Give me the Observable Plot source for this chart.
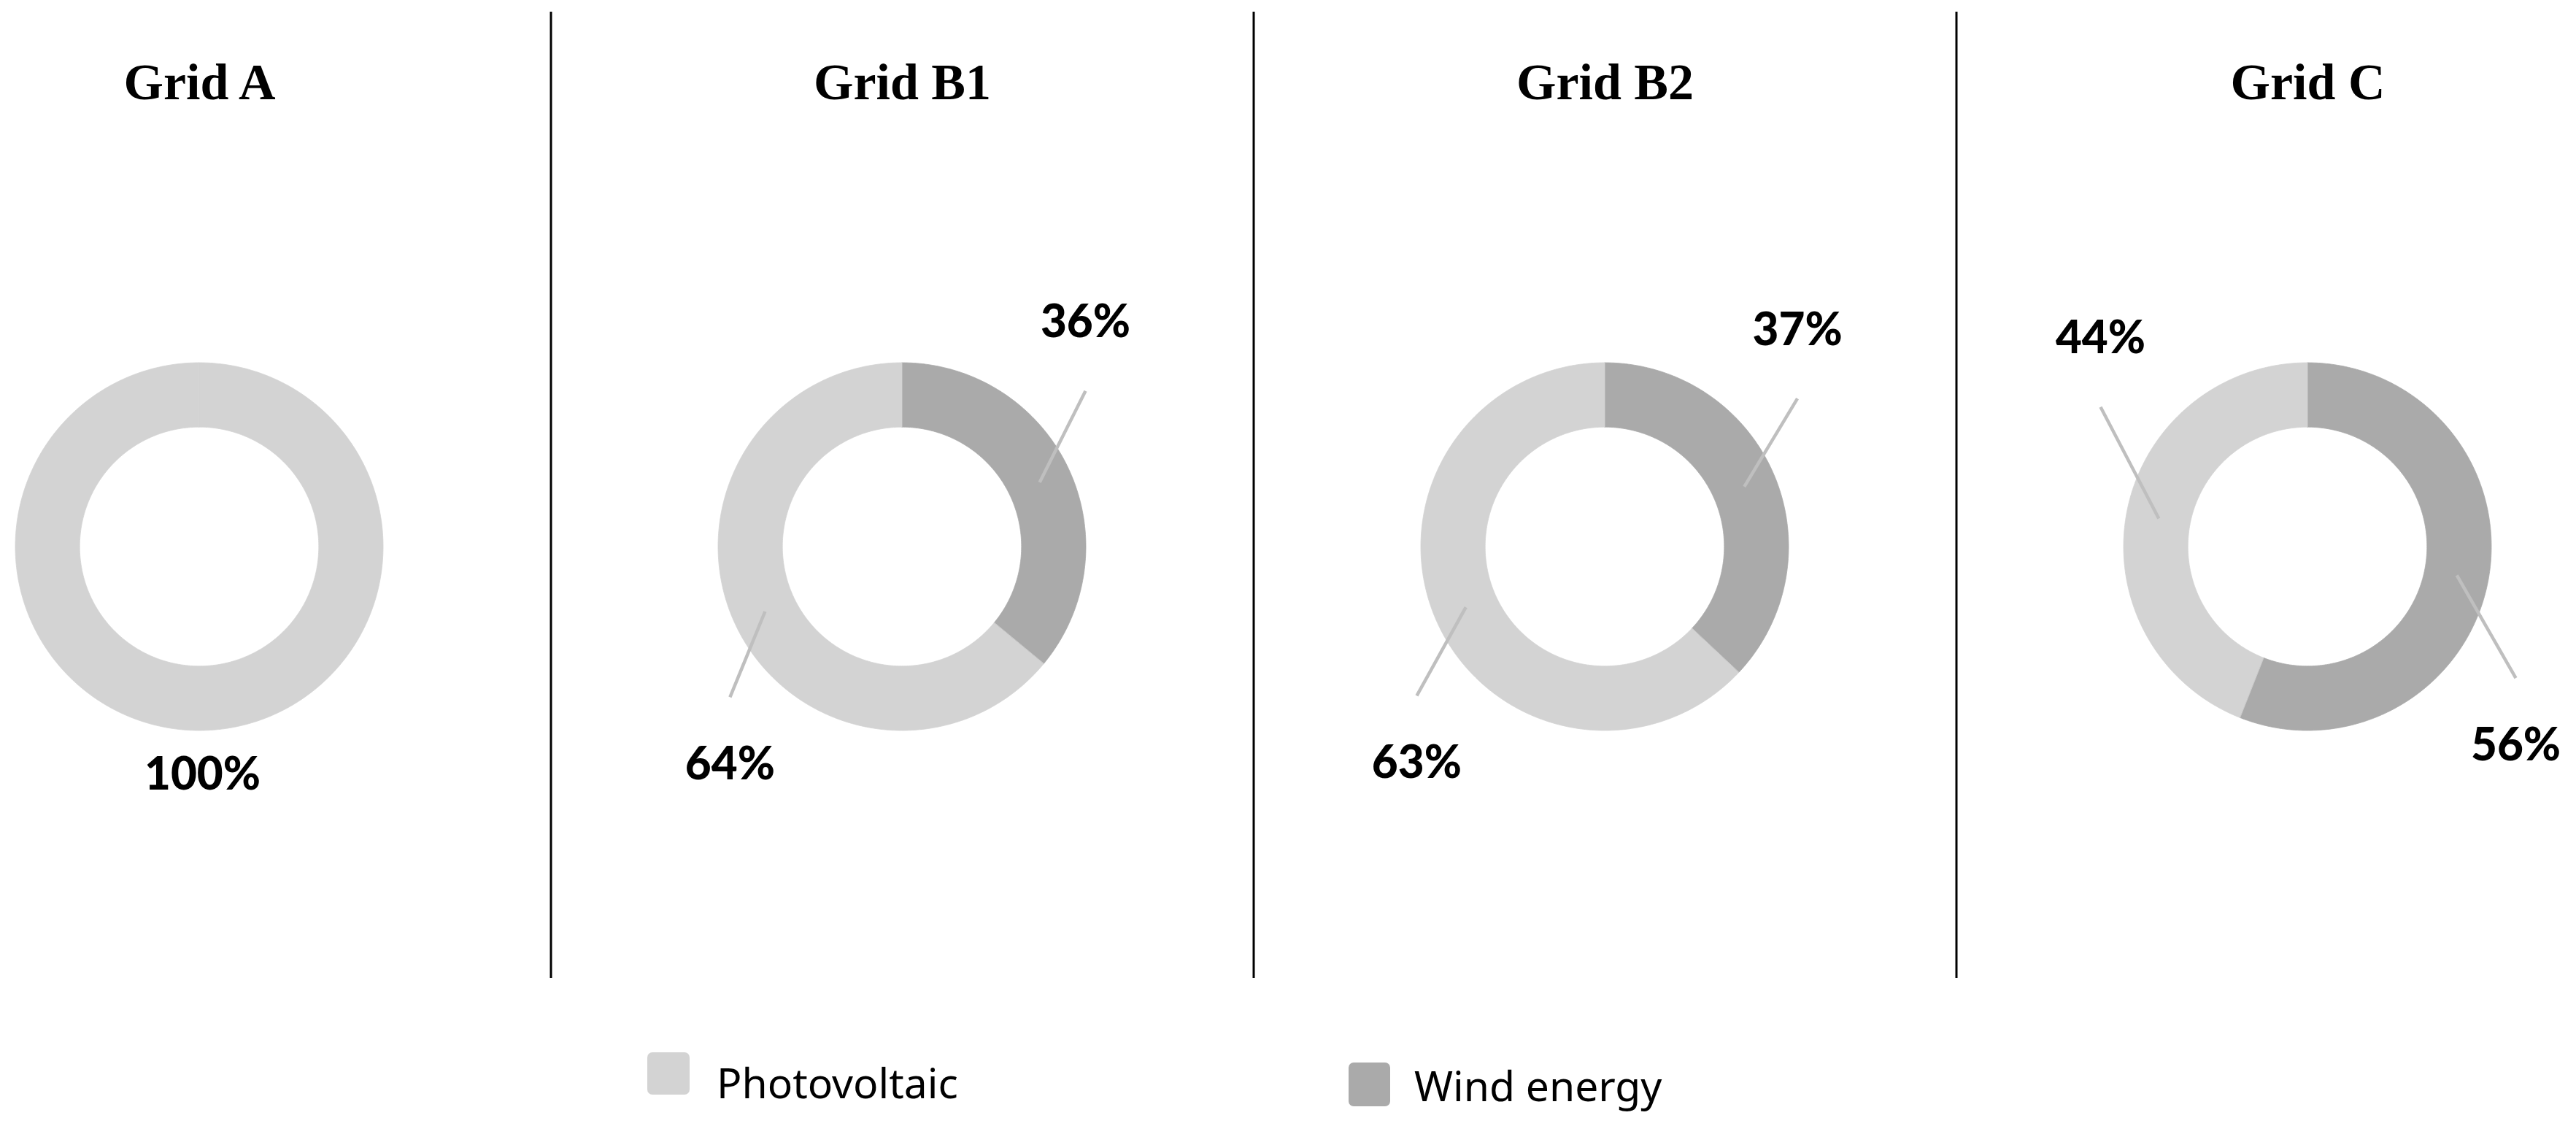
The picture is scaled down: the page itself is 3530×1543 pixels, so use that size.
<!DOCTYPE html>
<html><head><meta charset="utf-8">
<script src="https://cdn.jsdelivr.net/npm/d3@7"></script>
<script src="https://cdn.jsdelivr.net/npm/@observablehq/plot@0.6"></script>
<style>
html,body{margin:0;padding:0;background:#fff;}
#wrap{position:relative;width:3530px;height:1543px;overflow:hidden;background:#fff;}
#chart{position:absolute;left:0;top:0;}
.leg-sw{position:absolute;border-radius:7px;}
.leg-tx{position:absolute;font-family:"Noto Sans";font-size:57px;line-height:57px;color:#000;white-space:nowrap;}
</style></head><body>
<div id="wrap"><div id="chart"></div></div>
<script>
// ---------- data ----------
const grids = ["Grid A", "Grid B1", "Grid B2", "Grid C"];
const sources = ["Photovoltaic", "Wind energy"];
const photovoltaic = [100, 64, 63, 44];   // %
const windEnergy   = [0, 36, 37, 56];     // %
const sourceColors = ["#d3d3d3", "#aaaaaa"];

// ---------- layout (label placement in donut-radius units, relative to each donut centre, y up) ----------
const labelPlacement = {
  "Grid A":  {"Photovoltaic": [0.016, -1.242]},
  "Grid B1": {"Wind energy": [0.996, 1.218], "Photovoltaic": [-0.937, -1.187]},
  "Grid B2": {"Wind energy": [1.046, 1.177], "Photovoltaic": [-1.024, -1.179]},
  "Grid C":  {"Photovoltaic": [-1.127, 1.131], "Wind energy": [1.131, -1.083]}
};
const W = 3530, H = 1543;
const R_PX = 252, PANEL_PX = 963, CX0 = 273, CY = 749;
const P = PANEL_PX / R_PX;
const INNER = 0.65, MID = (1 + INNER) / 2;
const LEADER_GAP = 0.37;

// ---------- build slices (clockwise from 12 o'clock: wind first, then photovoltaic) ----------
const slices = [];
grids.forEach((g, i) => {
  const vals = [["Wind energy", windEnergy[i]], ["Photovoltaic", photovoltaic[i]]];
  let a = 0;
  for (const [src, v] of vals) {
    if (v <= 0) continue;
    const span = v / 100 * 2 * Math.PI;
    slices.push({grid: g, gi: i, source: src, value: v, start: a, end: a + span});
    a += span;
  }
});

const ring = [];
for (const s of slices) {
  const n = Math.max(8, Math.ceil((s.end - s.start) / (2 * Math.PI) * 720));
  const cx = s.gi * P;
  for (let k = 0; k <= n; k++) {
    const t = s.start + (s.end - s.start) * k / n;
    ring.push({key: s.grid + "|" + s.source, source: s.source,
      x1: cx + Math.sin(t), y1: Math.cos(t),
      x2: cx + INNER * Math.sin(t), y2: INNER * Math.cos(t)});
  }
}

const labels = slices.map(s => {
  const [lx, ly] = labelPlacement[s.grid][s.source];
  return {x: s.gi * P + lx, y: ly, text: s.value + "%", s};
});

const leaders = labels.filter(l => l.s.value < 100).map(l => {
  const mid = (l.s.start + l.s.end) / 2;
  const cx = l.s.gi * P;
  const [lx, ly] = labelPlacement[l.s.grid][l.s.source];
  return {x1: cx + MID * Math.sin(mid), y1: MID * Math.cos(mid),
          x2: cx + lx, y2: ly - Math.sign(ly) * LEADER_GAP};
});

const titleY = (CY - 113) / R_PX;
const divTop = (CY - 16) / R_PX, divBottom = (CY - 1340) / R_PX;

const chart = Plot.plot({
  width: W, height: H,
  margin: 0,
  x: {domain: [(0 - CX0) / R_PX, (W - CX0) / R_PX], axis: null},
  y: {domain: [(CY - H) / R_PX, CY / R_PX], axis: null},
  color: {domain: sources, range: sourceColors},
  style: {background: "#fff"},
  marks: [
    Plot.area(ring, {x1: "x1", y1: "y1", x2: "x2", y2: "y2", z: "key", fill: "source", stroke: "source", strokeWidth: 0.8, curve: "linear"}),
    Plot.link(leaders, {x1: "x1", y1: "y1", x2: "x2", y2: "y2", stroke: "#bfbfbf", strokeWidth: 4.5}),
    Plot.text(labels, {x: "x", y: "y", text: "text", fontFamily: "Lato", fontWeight: 900, fontSize: 62, fill: "#000", lineAnchor: "middle"}),
    Plot.text(grids, {x: (d, i) => i * P, y: () => titleY, text: d => d, fontFamily: "Liberation Serif", fontWeight: "bold", fontSize: 70, fill: "#000", lineAnchor: "middle"}),
    Plot.ruleX([0.5, 1.5, 2.5].map(k => k * P), {y1: () => divTop, y2: () => divBottom, stroke: "#000", strokeWidth: 3})
  ]
});
document.getElementById("chart").appendChild(chart);

// ---------- legend ----------
const wrap = document.getElementById("wrap");
const legendItems = [
  {name: sources[0], color: sourceColors[0], sw: [887, 1442, 58, 58], tx: [982, 1455]},
  {name: sources[1], color: sourceColors[1], sw: [1848, 1456, 57, 60], tx: [1938, 1459]}
];
for (const it of legendItems) {
  const s = document.createElement("div");
  s.className = "leg-sw";
  Object.assign(s.style, {left: it.sw[0] + "px", top: it.sw[1] + "px", width: it.sw[2] + "px", height: it.sw[3] + "px", background: it.color});
  wrap.appendChild(s);
  const t = document.createElement("div");
  t.className = "leg-tx";
  t.textContent = it.name;
  Object.assign(t.style, {left: it.tx[0] + "px", top: it.tx[1] + "px"});
  wrap.appendChild(t);
}
</script>
</body></html>
